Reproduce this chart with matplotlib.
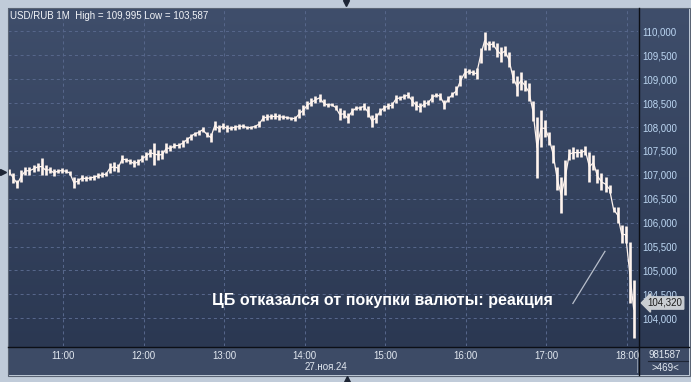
import numpy as np
import matplotlib.pyplot as plt
from matplotlib.patches import Rectangle
from matplotlib.lines import Line2D
from matplotlib.colors import LinearSegmentedColormap

# 3-minute bars, USD/RUB, 27 Nov 2024 (first bar 10:20)
start_min = 10 * 60 + 20
step_min = 3

bar_hi = [107.12, 107.04, 106.90, 107.10, 107.17, 107.17, 107.20, 107.25, 107.35, 107.20,
          107.17, 107.12, 107.12, 107.14, 107.12, 107.08, 106.96, 106.93, 107.00, 106.97,
          106.97, 107.00, 107.03, 107.05, 107.06, 107.25, 107.26, 107.22, 107.41, 107.36,
          107.34,
          107.31, 107.34, 107.41, 107.48, 107.55, 107.67, 107.52, 107.52, 107.67, 107.62,
          107.66, 107.67, 107.73, 107.80, 107.86, 107.90, 107.94, 108.00, 107.90, 107.87,
          108.12, 108.05, 108.08, 108.05, 108.02, 108.05, 108.06, 108.06, 108.02, 108.02,
          108.05,
          108.12, 108.25, 108.27, 108.27, 108.29, 108.27, 108.25, 108.24, 108.22, 108.23,
          108.37, 108.46, 108.55, 108.60, 108.64, 108.70, 108.58, 108.50, 108.50, 108.46,
          108.39, 108.36, 108.29, 108.39, 108.43, 108.44, 108.51, 108.43, 108.25, 108.29,
          108.39,
          108.46, 108.50, 108.53, 108.67, 108.65, 108.69, 108.74, 108.65, 108.55, 108.51,
          108.56, 108.56, 108.70, 108.72, 108.72, 108.56, 108.65, 108.74, 108.85, 109.09,
          109.23, 109.21, 109.19, 109.23, 109.65, 109.995, 109.80, 109.80, 109.75, 109.68,
          109.70,
          109.58, 109.19, 109.06, 109.16, 108.99, 108.92, 108.54, 108.22, 108.36, 108.15,
          107.90, 107.62, 107.17, 106.96, 107.31, 107.55, 107.59, 107.55, 107.55, 107.60,
          107.48, 107.41, 107.13, 107.03, 106.96, 106.79, 106.33, 106.33, 105.96, 105.92,
          105.60, 104.80]

bar_lo = [107.00, 106.83, 106.73, 106.85, 107.00, 107.00, 107.05, 107.08, 107.00, 107.00,
          107.04, 106.97, 107.03, 107.04, 107.03, 107.00, 106.72, 106.80, 106.87, 106.87,
          106.90, 106.90, 106.93, 106.95, 106.97, 107.04, 107.08, 107.06, 107.25, 107.27,
          107.22,
          107.16, 107.20, 107.27, 107.31, 107.38, 107.20, 107.31, 107.33, 107.45, 107.49,
          107.56, 107.56, 107.59, 107.66, 107.73, 107.82, 107.83, 107.89, 107.80, 107.69,
          107.94, 107.89, 107.96, 107.90, 107.93, 107.94, 107.96, 107.98, 107.96, 107.96,
          107.98,
          108.00, 108.12, 108.15, 108.16, 108.16, 108.15, 108.17, 108.16, 108.14, 108.13,
          108.19, 108.25, 108.37, 108.43, 108.50, 108.52, 108.43, 108.42, 108.43, 108.36,
          108.14, 108.19, 108.08, 108.25, 108.35, 108.36, 108.35, 108.21, 108.01, 108.08,
          108.25,
          108.34, 108.37, 108.39, 108.51, 108.57, 108.58, 108.60, 108.45, 108.36, 108.31,
          108.41, 108.46, 108.53, 108.63, 108.56, 108.37, 108.53, 108.62, 108.67, 108.85,
          109.02, 109.11, 109.09, 109.00, 109.35, 109.62, 109.61, 109.68, 109.47, 109.37,
          109.48,
          109.26, 108.92, 108.64, 108.78, 108.75, 108.54, 108.12, 106.93, 107.59, 107.80,
          107.62, 107.24, 106.68, 106.20, 106.58, 107.31, 107.34, 107.38, 107.38, 107.41,
          106.86, 107.10, 106.82, 106.68, 106.65, 106.61, 106.23, 105.99, 105.57, 105.57,
          104.31, 103.587]

last_price = 104.320
hour_ticks = [11, 12, 13, 14, 15, 16, 17, 18]
price_ticks = [104.0, 104.5, 105.0, 105.5, 106.0, 106.5, 107.0, 107.5,
               108.0, 108.5, 109.0, 109.5, 110.0]
title = "USD/RUB 1M  High = 109,995 Low = 103,587"
note = "ЦБ отказался от покупки валюты: реакция"
date_label = "27.ноя.24"

W, H = 691, 382


def fx(px):
    return px / W


def fy(py):
    return 1 - py / H


plt.rcParams['font.family'] = ['Liberation Sans', 'DejaVu Sans']

fig = plt.figure(figsize=(W / 100, H / 100), dpi=100)
fig.patch.set_facecolor('#c0cbd9')

# time scale strip (below everything else)
fig.patches.append(Rectangle((fx(8), fy(375)), fx(689) - fx(8), fy(347) - fy(375),
                             transform=fig.transFigure, facecolor='#3d4b66',
                             edgecolor='none', zorder=-2))

# gradient body behind plot and price scale
bg = fig.add_axes([fx(8), fy(347), fx(689) - fx(8), fy(8) - fy(347)], zorder=-1)
cmap = LinearSegmentedColormap.from_list('body', ['#3f4e6b', '#2b3852'])
bg.imshow(np.linspace(0, 1, 256).reshape(-1, 1), cmap=cmap, aspect='auto',
          extent=[0, 1, 0, 1])
bg.set_axis_off()

ax = fig.add_axes([fx(8), fy(346), fx(638) - fx(8), fy(8) - fy(346)])
ax.set_facecolor('none')
ax.set_xlim(619.0, 1088.2)
ax.set_ylim(103.42, 110.49)

t = start_min + step_min * np.arange(len(bar_hi))
hi = np.array(bar_hi)
lo = np.array(bar_lo)
ax.vlines(t, lo, hi, color='#fff4ee', lw=1.9, zorder=3)
# thin trace joining the bars, as the 1-minute bars in between would
ax.plot(t, (hi + lo) / 2, color='#fff4ee', lw=0.9, zorder=3)

ax.set_xticks([h * 60 for h in hour_ticks])
ax.set_xticklabels([f"{h}:00" for h in hour_ticks])
ax.set_yticks(price_ticks)
ax.set_yticklabels([f"{p:.3f}".replace('.', ',') for p in price_ticks])
ax.yaxis.tick_right()
ax.tick_params(axis='y', length=0, pad=3.3, labelsize=7, labelcolor='#bcd6f2')
ax.tick_params(axis='x', length=0, pad=3.5, labelsize=7, labelcolor='#e2e8f0')
ax.grid(True, color='#56668a', lw=0.75, linestyle=(0, (2.9, 2.9)))
ax.set_axisbelow(True)
for s in ax.spines.values():
    s.set_visible(False)

ax.text(0.003, 0.99, title, transform=ax.transAxes, ha='left', va='top',
        fontsize=7, color='#f2f4f8')

ax.text(1025, 104.38, note, ha='right', va='center', fontsize=11.5,
        fontweight='bold', color='#ffffff', zorder=5)
ax.plot([1039.7, 1063.6], [104.31, 105.40], color='#b8bfcb', lw=0.9, zorder=4)

# last price marker on the scale
ax.annotate(f"{last_price:.3f}".replace('.', ','), xy=(1.0, last_price),
            xycoords=('axes fraction', 'data'), xytext=(7, 0),
            textcoords='offset points', ha='left', va='center', fontsize=7,
            color='#1c1c1c', annotation_clip=False, zorder=6,
            bbox=dict(boxstyle='larrow,pad=0.12', fc='#c9cdd2', ec='#c9cdd2'))

fig.text(fx(326), fy(367), date_label, ha='center', va='center', fontsize=7,
         color='#e2e8f0')
fig.text(fx(665), fy(355), "981587", ha='center', va='center', fontsize=7,
         color='#e2e8f0')
fig.text(fx(665), fy(368), ">469<", ha='center', va='center', fontsize=7,
         color='#e2e8f0')
fig.add_artist(Line2D([fx(648), fx(688)], [fy(361), fy(361)], color='#1e2636', lw=0.8))

# frame lines
fig.add_artist(Line2D([fx(8), fx(689)], [fy(346.5), fy(346.5)], color='#0c0f16', lw=1.0))
fig.add_artist(Line2D([fx(639), fx(639)], [fy(8), fy(375)], color='#0c0f16', lw=1.0))
fig.add_artist(Rectangle((fx(7.5), fy(375.5)), fx(689.5) - fx(7.5), fy(7.5) - fy(375.5),
                         transform=fig.transFigure, fill=False, ec='#5a6474', lw=0.8))
fig.add_artist(Line2D([fx(636.5), fx(636.5)], [fy(350), fy(372)], color='#8a95a6', lw=0.7))

# small scroll arrows
fig.add_artist(Line2D([fx(346)], [fy(3)], marker='v', ms=5, color='#1d2535',
                      transform=fig.transFigure))
fig.add_artist(Line2D([fx(347)], [fy(379)], marker='^', ms=5, color='#1d2535',
                      transform=fig.transFigure))
fig.add_artist(Line2D([fx(3)], [fy(172)], marker='>', ms=5, color='#1d2535',
                      transform=fig.transFigure))

fig.savefig('out.png', dpi=100, facecolor=fig.get_facecolor())
